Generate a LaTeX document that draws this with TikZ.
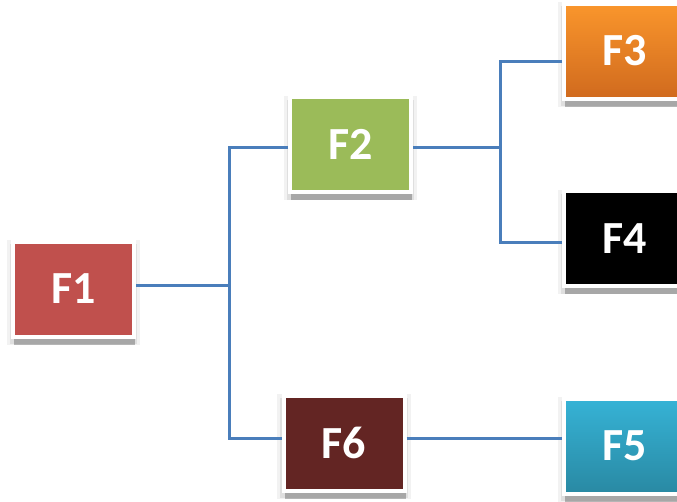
\documentclass[tikz,border=0pt]{standalone}
\usepackage{fontspec}
\setmainfont{Carlito}
\usetikzlibrary{shadows}
\definecolor{linkblue}{HTML}{4A7EBB}
\definecolor{fred}{HTML}{C0504D}
\definecolor{fgreen}{HTML}{9BBB59}
\definecolor{fmaroon}{HTML}{632523}
\tikzset{
	box/.style={draw=white, line width=4pt, minimum width=121pt, minimum height=95pt,
		text=white, font=\fontsize{46}{46}\selectfont\bfseries, inner sep=0pt,
		drop shadow={shadow xshift=0pt, shadow yshift=-3pt, shadow scale=1.1, opacity=0.05, fill=black},
		drop shadow={shadow xshift=0pt, shadow yshift=-5pt, shadow scale=1.05, opacity=0.08, fill=black},
		drop shadow={shadow xshift=1pt, shadow yshift=-8pt, opacity=0.25, fill=black}},
	link/.style={draw=linkblue, line width=3pt}
}
\begin{document}
\begin{tikzpicture}[x=1pt, y=-1pt]
	% frame: 677 x 501
	\useasboundingbox (0,0) rectangle (677,501);
	\clip (0,0) rectangle (677,501);
	% boxes
	\node[box, fill=fred] (f1) at (73.5,289) {F1};
	\node[box, fill=fgreen] (f2) at (350.5,144.5) {F2};
	\node[box, top color={rgb,255:red,250;green,150;blue,44}, bottom color={rgb,255:red,208;green,106;blue,30}] (f3) at (624.5,51) {F3};
	\node[box, fill=black] (f4) at (624.5,238.5) {F4};
	\node[box, fill=fmaroon] (f6) at (344,443) {F6};
	\node[box, top color={rgb,255:red,54;green,179;blue,214}, bottom color={rgb,255:red,41;green,137;blue,163}] (f5) at (624.5,446) {F5};
	% connectors
	\draw[link] ([yshift=4pt]f1.east) -- ++(93,0) coordinate (j1);
	\draw[link] ([yshift=-2.5pt]f2.west) -| (j1) |- ([yshift=5pt]f6.west);
	\draw[link] ([yshift=-2.5pt]f2.east) -- ++(87,0) coordinate (j2);
	\draw[link] ([yshift=-10pt]f3.west) -| (j2) |- ([yshift=-3.5pt]f4.west);
	\draw[link] ([yshift=5pt]f6.east) -- ([yshift=8pt]f5.west);
\end{tikzpicture}
\end{document}
